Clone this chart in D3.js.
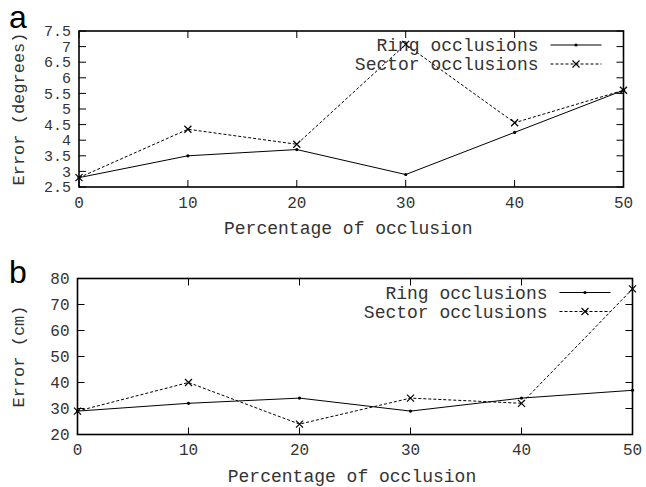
<!DOCTYPE html>
<html>
<head>
<meta charset="utf-8">
<script src="https://cdn.jsdelivr.net/npm/d3@7"></script>
<style>
  body { margin: 0; background: #fff; }
  text { font-family: "Liberation Mono", "DejaVu Sans Mono", monospace; fill: #333; }
  .panel-letter { font-family: "Liberation Sans", Arial, sans-serif; fill: #000; }
</style>
</head>
<body>
<div id="chart"></div>
<script>
// Data
const occlusion = [0, 10, 20, 30, 40, 50];
const seriesNames = ["Ring occlusions", "Sector occlusions"];

// panel a: error in degrees
const ringDeg = [2.8, 3.5, 3.7, 2.9, 4.25, 5.6];
const sectorDeg = [2.8, 4.35, 3.87, 7.07, 4.56, 5.6];
const degTicks = [2.5, 3, 3.5, 4, 4.5, 5, 5.5, 6, 6.5, 7, 7.5];

// panel b: error in cm
const ringCm = [29, 32, 34, 29, 34, 37];
const sectorCm = [29, 40, 24, 34, 32, 76];
const cmTicks = [20, 30, 40, 50, 60, 70, 80];

const svg = d3.select("#chart")
    .append("svg")
    .attr("width", 646)
    .attr("height", 487);

function drawPanel(opt) {
    const x = d3.scaleLinear().domain([0, 50]).range([opt.left, opt.right]);
    const y = d3.scaleLinear().domain(d3.extent(opt.yTicks)).range([opt.bottom, opt.top]);
    const g = svg.append("g");
    const tickLen = 7;

    // inward ticks on all four sides
    occlusion.forEach(v => {
        g.append("line").attr("x1", x(v)).attr("x2", x(v))
            .attr("y1", opt.bottom).attr("y2", opt.bottom - tickLen).attr("stroke", "#000");
        g.append("line").attr("x1", x(v)).attr("x2", x(v))
            .attr("y1", opt.top).attr("y2", opt.top + tickLen).attr("stroke", "#000");
        g.append("text")
            .attr("x", x(v)).attr("y", opt.bottom + 15)
            .attr("dy", "0.35em")
            .attr("text-anchor", "middle")
            .style("font-size", "16px")
            .text(v);
    });
    opt.yTicks.forEach(v => {
        g.append("line").attr("x1", opt.left).attr("x2", opt.left + tickLen)
            .attr("y1", y(v)).attr("y2", y(v)).attr("stroke", "#000");
        g.append("line").attr("x1", opt.right).attr("x2", opt.right - tickLen)
            .attr("y1", y(v)).attr("y2", y(v)).attr("stroke", "#000");
        g.append("text")
            .attr("x", opt.left - 8).attr("y", y(v))
            .attr("dy", "0.35em")
            .attr("text-anchor", "end")
            .style("font-size", opt.yTickSize)
            .text(v);
    });

    // frame
    g.append("rect")
        .attr("x", opt.left).attr("y", opt.top)
        .attr("width", opt.right - opt.left).attr("height", opt.bottom - opt.top)
        .attr("fill", "none").attr("stroke", "#000").attr("stroke-width", 1.6);

    // axis titles
    g.append("text")
        .attr("x", (opt.left + opt.right) / 2 - 3).attr("y", opt.bottom + 47)
        .attr("text-anchor", "middle")
        .style("font-size", "18px")
        .text("Percentage of occlusion");
    g.append("text")
        .attr("transform", `translate(18,${(opt.top + opt.bottom) / 2}) rotate(-90)`)
        .attr("dy", "0.35em")
        .attr("text-anchor", "middle")
        .style("font-size", "17px")
        .text(opt.yTitle);

    // panel letter
    g.append("text")
        .attr("class", "panel-letter")
        .attr("x", 9).attr("y", opt.letterY)
        .style("font-size", "32px")
        .text(opt.letter);

    const line = d3.line().x((d, i) => x(occlusion[i])).y(d => y(d));
    const series = [
        { name: seriesNames[0], values: opt.ring, dash: null, marker: "dot" },
        { name: seriesNames[1], values: opt.sector, dash: "3,2", marker: "cross" }
    ];

    function marker(sel, type, cx, cy) {
        if (type === "dot") {
            sel.append("circle").attr("cx", cx).attr("cy", cy).attr("r", 1.6).attr("fill", "#000");
        } else {
            const s = 3.5;
            sel.append("path")
                .attr("d", `M${cx - s},${cy - s}L${cx + s},${cy + s}M${cx - s},${cy + s}L${cx + s},${cy - s}`)
                .attr("stroke", "#000").attr("stroke-width", 1.2);
        }
    }

    series.forEach((s, k) => {
        g.append("path")
            .datum(s.values)
            .attr("d", line)
            .attr("fill", "none")
            .attr("stroke", "#000")
            .attr("stroke-width", 1)
            .attr("stroke-dasharray", s.dash);
        s.values.forEach((v, i) => marker(g, s.marker, x(occlusion[i]), y(v)));

        // legend
        const ly = opt.top + 14 + k * 19;
        const lx1 = opt.right - 73, lx2 = opt.right - 22;
        g.append("text")
            .attr("x", lx1 - 12).attr("y", ly)
            .attr("dy", "0.35em")
            .attr("text-anchor", "end")
            .style("font-size", "18px")
            .text(s.name);
        g.append("line")
            .attr("x1", lx1).attr("x2", lx2).attr("y1", ly).attr("y2", ly)
            .attr("stroke", "#000").attr("stroke-width", 1)
            .attr("stroke-dasharray", s.dash);
        marker(g, s.marker, (lx1 + lx2) / 2, ly);
    });
}

drawPanel({
    letter: "a", letterY: 28, left: 79, right: 623.5, top: 31, bottom: 187, yTickSize: "15px",
    yTicks: degTicks, ring: ringDeg, sector: sectorDeg, yTitle: "Error (degrees)"
});
drawPanel({
    letter: "b", letterY: 283, left: 77.5, right: 632.5, top: 278.5, bottom: 434.5, yTickSize: "16px",
    yTicks: cmTicks, ring: ringCm, sector: sectorCm, yTitle: "Error (cm)"
});
</script>
</body>
</html>
